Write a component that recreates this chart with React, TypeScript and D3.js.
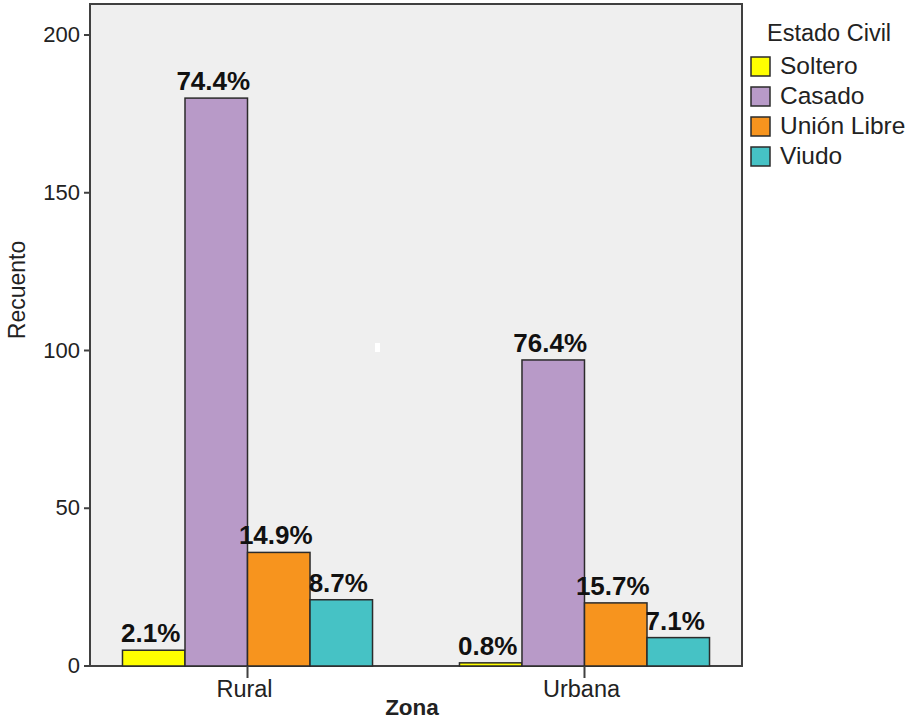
import React from "react";
import * as d3 from "d3";

const zonas = ["Rural", "Urbana"];
const estados = ["Soltero", "Casado", "Unión Libre", "Viudo"];
const rural = [5, 180, 36, 21];
const urbana = [1, 97, 20, 9];
const porcentajes = [["2.1%", "74.4%", "14.9%", "8.7%"], ["0.8%", "76.4%", "15.7%", "7.1%"]];
const yTicks = [0, 50, 100, 150, 200];
const colores = ["#ffff00", "#b89ac8", "#f7941e", "#46c2c5"];

const W = 909, H = 719;
const plot = { left: 90, right: 742, top: 4, bottom: 666 };
const FONT = "'Liberation Sans', Arial, sans-serif";

export default function App() {
  const values = [rural, urbana];
  const y = d3.scaleLinear().domain([0, 200]).range([plot.bottom, 35]);
  const x0 = d3.scaleBand().domain(zonas).range([plot.left, plot.right]).paddingInner(0.258).paddingOuter(0.0964);
  const x1 = d3.scaleBand().domain(estados).range([0, x0.bandwidth()]).padding(0);

  return (
    <svg width={W} height={H} style={{ position: "absolute", left: 0, top: 0, background: "#fff" }} fontFamily={FONT}>
      <rect x={plot.left} y={plot.top} width={plot.right - plot.left} height={plot.bottom - plot.top} fill="#efefef" stroke="#404040" strokeWidth={2} />
      <rect x={375} y={343} width={5} height={9} fill="#fff" />
      {/* bars */}
      {zonas.map((z, gi) => (
        <g key={z} transform={`translate(${x0(z)},0)`}>
          {estados.map((e, i) => {
            const v = values[gi][i];
            const bx = x1(e)!;
            const by = y(v);
            return (
              <g key={e}>
                <rect x={bx} y={by} width={x1.bandwidth()} height={plot.bottom - by} fill={colores[i]} stroke="#2b2b2b" strokeWidth={1.5} />
                <text x={bx + x1.bandwidth() / 2 - 3} y={by - 8} textAnchor="middle" fontWeight="bold" fontSize={26} fill="#111">{porcentajes[gi][i]}</text>
              </g>
            );
          })}
        </g>
      ))}
      {/* y axis */}
      {yTicks.map((t) => (
        <g key={t}>
          <line x1={84} x2={plot.left} y1={y(t)} y2={y(t)} stroke="#404040" strokeWidth={2} />
          <text x={80} y={y(t) + 7} textAnchor="end" fontSize={22} fill="#222">{t}</text>
        </g>
      ))}
      <text transform={`translate(25,290) rotate(-90)`} textAnchor="middle" fontSize={23} fill="#222">Recuento</text>
      {/* x axis */}
      {zonas.map((z) => {
        const cx = x0(z)! + x0.bandwidth() / 2;
        return (
          <g key={z}>
            <line x1={cx} x2={cx} y1={plot.bottom} y2={678} stroke="#404040" strokeWidth={2} />
            <text x={cx - 3} y={697} textAnchor="middle" fontSize={23.5} fill="#222">{z}</text>
          </g>
        );
      })}
      <text x={412} y={715} textAnchor="middle" fontSize={22.5} fontWeight="bold" fill="#222">Zona</text>
      {/* legend */}
      <text x={767} y={41} fontSize={23.5} fill="#222">Estado Civil</text>
      {estados.map((e, i) => (
        <g key={e} transform={`translate(751,${57 + i * 30})`}>
          <rect x={0} y={0} width={19} height={19} fill={colores[i]} stroke="#2b2b2b" strokeWidth={1.5} />
          <text x={29} y={17} fontSize={24.5} fill="#222">{e}</text>
        </g>
      ))}
    </svg>
  );
}
